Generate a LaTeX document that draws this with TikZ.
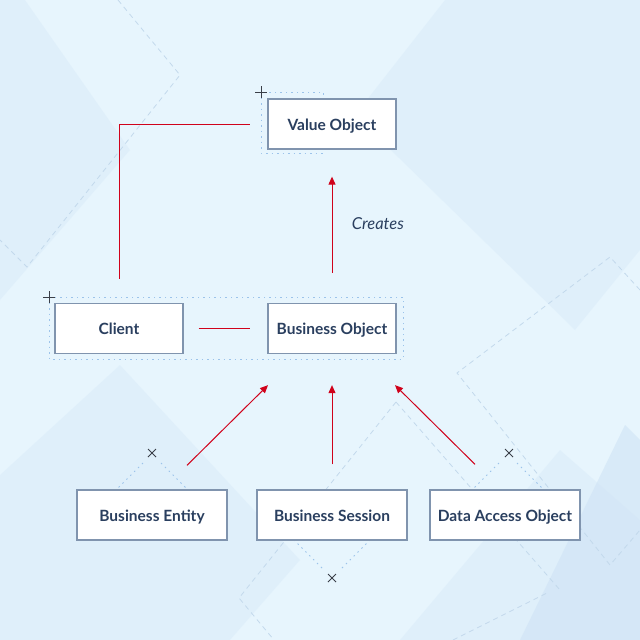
\documentclass[tikz,border=0pt]{standalone}
\usepackage{fontspec}
\setmainfont{Lato}
\usetikzlibrary{arrows.meta}
\definecolor{bgbase}{HTML}{E7F5FD}
\definecolor{bgband}{HTML}{D9EBF9}
\definecolor{bgdark}{HTML}{CFE3F5}
\definecolor{decoline}{HTML}{C3D9EC}
\definecolor{selblue}{HTML}{9CC3EA}
\definecolor{boxline}{HTML}{8094AE}
\definecolor{navy}{HTML}{2A3F5F}
\definecolor{linkred}{HTML}{D0021B}
\definecolor{markgray}{HTML}{3A3F48}
\tikzset{
	box/.style={draw=boxline,line width=1.3pt,fill=white,minimum width=128pt,minimum height=50pt,
		inner sep=0pt,text=navy,text height=12pt,text depth=0pt,font=\fontsize{15.5}{17}\selectfont\bfseries},
	widebox/.style={box,minimum width=150pt},
	link/.style={draw=linkred,line width=1pt},
	arr/.style={link,-{Triangle[length=8pt,width=7pt]}},
	sel/.style={draw=selblue,line width=1pt,dash pattern=on 1.5pt off 4pt},
	deco/.style={draw=decoline,line width=0.8pt,dash pattern=on 5pt off 4pt},
	selmark/.style={draw=markgray,line width=0.9pt}
}
\begin{document}
\begin{tikzpicture}[x=1pt,y=-1pt]
	\useasboundingbox (0,0) rectangle (640,640);
	% background
	\fill[bgbase] (0,0) rectangle (640,640);
	\fill[bgband,opacity=.5] (0,0) -- (25,0) -- (130,150) -- (0,300) -- cycle;
	\fill[bgband,opacity=.5] (445,0) -- (640,0) -- (640,250) -- (575,330) -- (355,115) -- cycle;
	\fill[bgband,opacity=.5] (0,475) -- (120,365) -- (300,560) -- (230,640) -- (0,640) -- cycle;
	\fill[bgband,opacity=.5] (400,640) -- (560,450) -- (640,520) -- (640,640) -- cycle;
	\fill[bgdark,opacity=.6] (520,640) -- (625,425) -- (640,440) -- (640,640) -- cycle;
	\draw[deco] (118,0) -- (180,75) -- (27,267) -- (0,240);
	\draw[deco] (640,290) -- (610,257) -- (457,373) -- (610,565) -- (640,530);
	\draw[deco] (396,402) -- (239,598) -- (274,640);
	\draw[deco] (396,402) -- (560,590);
	\draw[deco] (453,640) -- (547,593);
	% selection marks
	\draw[sel] (261,92) rectangle (323,153);
	\draw[sel] (49,297) rectangle (403,359);
	\draw[sel] (143,463) -- (115,491);
	\draw[sel] (161,463) -- (189,491);
	\draw[sel] (499,463) -- (471,491);
	\draw[sel] (517,463) -- (545,491);
	\draw[sel] (322,568) -- (294,540);
	\draw[sel] (342,568) -- (370,540);
	\draw[selmark] (255,92) -- (267,92) (261,86) -- (261,98);
	\draw[selmark] (43,297) -- (55,297) (49,291) -- (49,303);
	\foreach \mx/\my in {152/453,509/453,332/578}
		\draw[selmark] (\mx-4,\my-4) -- (\mx+4,\my+4) (\mx-4,\my+4) -- (\mx+4,\my-4);
	% nodes
	\node[box] (vo) at (332,124) {Value Object};
	\node[box] (client) at (119,328.5) {Client};
	\node[box] (bo) at (332,328.5) {Business Object};
	\node[widebox] (be) at (152,515) {Business Entity};
	\node[widebox] (bs) at (332,515) {Business Session};
	\node[widebox] (dao) at (505,515) {Data Access Object};
	% connectors
	\draw[link] ([yshift=24pt]client.north) |- ([xshift=-17pt]vo.west);
	\draw[arr,shorten <=30pt,shorten >=27pt] (bo.north) -- (vo.south)
		node[pos=.5,right=16pt,yshift=3pt,text=navy,font=\fontsize{16.5}{18}\selectfont\itshape] (creates) {Creates};
	\draw[link,shorten <=15pt,shorten >=17pt] (client.east) -- (bo.west);
	\draw[arr] ([xshift=35pt,yshift=24pt]be.north) -- ([xshift=-64pt,yshift=-31pt]bo.south);
	\draw[arr] ([yshift=25pt]bs.north) -- ([yshift=-31pt]bo.south);
	\draw[arr] ([xshift=-30pt,yshift=25pt]dao.north) -- ([xshift=63pt,yshift=-31pt]bo.south);
\end{tikzpicture}
\end{document}
